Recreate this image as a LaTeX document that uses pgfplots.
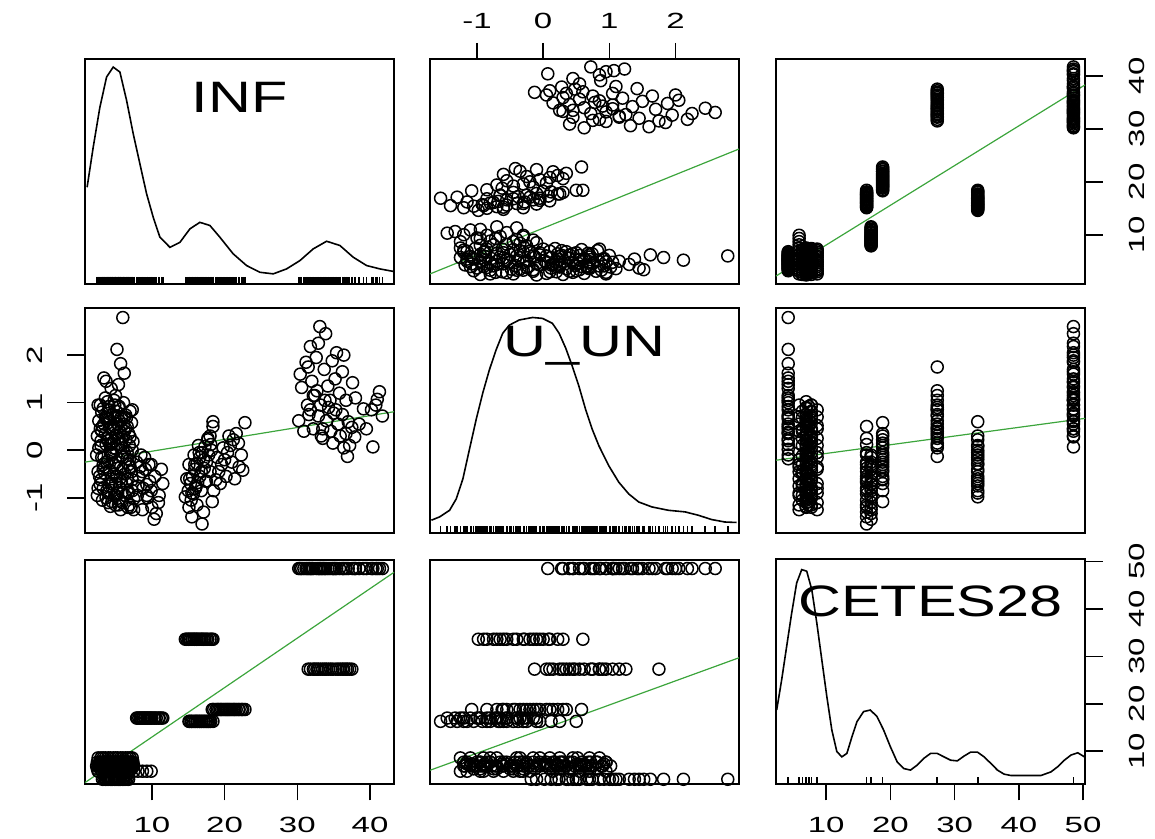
\documentclass[border=0pt]{standalone}
\usepackage{fontspec}
\setmainfont{Liberation Sans}
\newfontfamily\tickfont[FakeStretch=1.5]{Liberation Sans}
\usepackage{pgfplots}
\usepackage{pgfplotstable}
\pgfplotsset{compat=1.18}
\definecolor{fitgreen}{RGB}{60,165,60}

% INF, U_UN, CETES28 per observation
\pgfplotstableread{
INF UUN CETES
6.0 2.79 4.1
5.2 2.12 4.1
5.7 1.82 4.1
6.2 1.62 4.1
3.4 1.52 4.1
3.7 1.45 4.1
4.4 1.30 4.1
5.0 1.15 4.1
4.8 1.05 4.1
5.5 0.92 4.1
4.1 0.85 4.1
6.4 0.74 4.1
3.9 0.66 4.1
5.3 0.55 4.1
4.6 0.45 4.1
6.8 0.35 4.1
5.9 0.24 4.1
4.3 0.12 4.1
5.1 0.02 4.1
6.6 -0.18 4.1
3.6 1.10 4.1
4.9 0.70 4.1
5.6 0.38 4.1
4.0 0.20 4.1
6.1 1.00 4.1
3.2 0.50 4.1
5.4 1.38 4.1
4.5 -0.10 4.1
2.6 0.95 5.8
3.1 0.40 5.8
3.5 -0.35 5.8
4.0 -0.90 5.8
4.5 0.15 5.8
5.0 -1.15 5.8
5.6 -0.60 5.8
6.2 0.70 5.8
6.9 -0.20 5.8
7.5 -1.25 5.8
8.1 -0.75 5.8
8.7 -0.45 5.8
9.3 -0.95 5.8
9.9 -0.30 5.8
5.3 0.55 5.8
2.5 -0.95 6.3
2.9 0.45 6.3
3.3 -0.30 6.3
3.7 0.68 6.3
4.1 -0.75 6.3
4.4 0.25 6.3
4.8 -0.50 6.3
5.1 0.82 6.3
5.5 -1.05 6.3
5.8 -0.12 6.3
6.2 0.40 6.3
6.5 -0.70 6.3
6.9 0.10 6.3
7.2 -0.45 6.3
2.4 -0.10 6.9
2.7 0.62 6.9
2.9 -0.72 6.9
3.0 0.20 6.9
3.2 -1.05 6.9
3.3 0.88 6.9
3.5 -0.48 6.9
3.6 0.35 6.9
3.8 -0.85 6.9
3.9 1.02 6.9
4.0 -0.22 6.9
4.2 0.48 6.9
4.3 -1.18 6.9
4.5 -0.60 6.9
4.6 0.75 6.9
4.7 0.05 6.9
4.9 -0.95 6.9
5.0 0.32 6.9
5.2 -0.38 6.9
5.4 0.90 6.9
5.5 -0.78 6.9
5.7 0.12 6.9
5.9 -1.10 6.9
6.1 0.55 6.9
6.3 -0.50 6.9
6.6 -0.05 6.9
6.8 -0.88 6.9
7.0 0.28 6.9
7.3 -0.62 6.9
7.5 -1.02 6.9
2.6 -0.45 6.9
3.1 -0.15 6.9
3.7 0.12 6.9
4.1 0.65 6.9
4.8 -0.30 6.9
5.3 -0.90 6.9
5.8 0.70 6.9
6.0 -0.40 6.9
6.4 0.22 6.9
6.7 -1.20 6.9
7.2 0.58 6.9
4.4 -0.70 6.9
2.7 0.05 7.3
3.0 -0.62 7.3
3.4 0.55 7.3
3.8 -0.25 7.3
4.1 0.92 7.3
4.5 -1.08 7.3
4.8 0.20 7.3
5.2 -0.55 7.3
5.5 0.62 7.3
5.9 -0.88 7.3
6.2 -0.05 7.3
6.6 0.50 7.3
6.9 -1.15 7.3
7.3 0.00 7.3
2.5 0.30 7.7
2.8 -0.55 7.7
3.1 0.80 7.7
3.4 -0.15 7.7
3.7 -1.00 7.7
4.0 0.58 7.7
4.2 -0.42 7.7
4.4 0.15 7.7
4.6 -0.80 7.7
4.9 0.95 7.7
5.1 -0.25 7.7
5.4 -1.15 7.7
5.6 0.40 7.7
5.8 -0.65 7.7
6.0 0.05 7.7
6.3 -0.95 7.7
6.5 0.68 7.7
6.8 -0.30 7.7
7.1 -1.20 7.7
7.4 0.18 7.7
2.9 0.95 7.7
3.3 -0.80 7.7
3.9 0.25 7.7
4.3 -0.05 7.7
4.7 0.45 7.7
5.0 -0.95 7.7
5.3 0.72 7.7
5.7 -0.35 7.7
6.1 0.28 7.7
6.6 -0.60 7.7
7.0 0.82 7.7
7.3 -0.85 7.7
2.6 -0.80 8.6
3.0 0.10 8.6
3.3 -0.40 8.6
3.6 0.70 8.6
4.0 -1.10 8.6
4.3 -0.05 8.6
4.7 0.52 8.6
5.0 -0.70 8.6
5.3 0.25 8.6
5.7 -1.25 8.6
6.0 -0.15 8.6
6.4 0.45 8.6
6.7 -0.90 8.6
7.0 -0.35 8.6
7.3 0.85 8.6
7.9 -0.25 17.0
8.2 -0.55 17.0
8.5 -0.10 17.0
8.8 -0.80 17.0
9.1 -0.40 17.0
9.4 -1.00 17.0
9.7 -0.65 17.0
10.0 -1.20 17.0
10.3 -1.45 17.0
10.6 -1.33 17.0
11.0 -0.95 17.0
11.5 -0.70 17.0
8.0 -0.95 17.0
8.4 -0.35 17.0
8.7 -1.25 17.0
9.0 -0.15 17.0
9.3 -0.72 17.0
9.6 -0.30 17.0
9.9 -0.85 17.0
10.4 -0.55 17.0
10.9 -1.10 17.0
11.3 -0.40 17.0
15.1 -1.20 16.3
15.4 -1.05 16.3
15.7 -0.92 16.3
16.0 -0.80 16.3
16.3 -0.68 16.3
16.6 -0.55 16.3
16.9 -1.55 16.3
17.2 -0.38 16.3
17.5 -0.25 16.3
17.8 -0.10 16.3
18.1 0.12 16.3
18.4 0.50 16.3
15.2 -0.60 16.3
15.5 -1.40 16.3
15.9 -0.30 16.3
16.2 -1.15 16.3
16.5 -0.05 16.3
16.8 -0.85 16.3
17.1 -1.30 16.3
17.4 -0.65 16.3
17.7 0.25 16.3
18.0 -0.45 16.3
18.3 -1.08 18.8
18.8 -0.62 18.8
19.2 -0.45 18.8
19.6 -0.30 18.8
20.0 -0.20 18.8
20.4 -0.05 18.8
20.8 0.10 18.8
21.2 0.22 18.8
21.6 0.35 18.8
22.0 -0.35 18.8
22.5 -0.42 18.8
22.8 0.58 18.8
18.5 -0.85 18.8
19.0 -0.15 18.8
19.4 -0.70 18.8
19.8 0.05 18.8
20.2 -0.55 18.8
20.6 0.30 18.8
21.0 -0.25 18.8
21.4 -0.60 18.8
21.9 0.15 18.8
22.3 -0.10 18.8
14.6 -0.98 33.6
15.0 -0.85 33.6
15.3 -0.70 33.6
15.6 -0.55 33.6
15.9 -0.40 33.6
16.2 -0.28 33.6
16.6 -0.15 33.6
16.9 -0.05 33.6
17.3 0.08 33.6
17.7 0.22 33.6
18.0 0.30 33.6
18.4 0.60 33.6
14.8 -0.60 33.6
15.1 -0.30 33.6
15.5 -0.90 33.6
15.8 -0.10 33.6
16.1 -0.75 33.6
16.4 0.10 33.6
16.8 -0.45 33.6
17.1 -0.20 33.6
17.5 -0.65 33.6
18.2 0.00 33.6
31.5 1.75 27.3
32.4 1.15 27.3
33.2 0.95 27.3
34.0 0.62 27.3
34.6 0.40 27.3
35.3 0.85 27.3
35.9 0.30 27.3
36.4 0.05 27.3
36.9 -0.13 27.3
37.5 0.48 27.3
33.8 1.05 27.3
32.9 0.72 27.3
31.8 0.85 27.3
32.2 0.45 27.3
32.7 1.25 27.3
33.5 0.25 27.3
34.3 0.90 27.3
34.9 0.15 27.3
35.6 0.55 27.3
36.2 0.75 27.3
36.7 0.35 27.3
37.2 0.10 27.3
41.7 0.72 48.5
41.0 1.07 48.5
40.4 0.07 48.5
39.1 0.87 48.5
40.8 0.95 48.5
41.3 1.23 48.5
38.5 0.55 48.5
37.6 1.42 48.5
36.2 1.65 48.5
35.4 2.05 48.5
34.8 1.88 48.5
33.9 2.45 48.5
33.1 2.60 48.5
32.6 1.95 48.5
31.8 2.18 48.5
30.6 1.32 48.5
30.2 0.62 48.5
31.4 0.95 48.5
32.2 1.15 48.5
33.5 0.45 48.5
34.2 1.35 48.5
35.0 0.78 48.5
36.7 1.05 48.5
37.9 0.28 48.5
30.4 1.60 48.5
30.9 0.40 48.5
31.2 1.85 48.5
31.6 0.75 48.5
32.0 1.45 48.5
32.9 2.25 48.5
33.3 0.30 48.5
33.7 1.70 48.5
34.5 1.05 48.5
35.2 1.50 48.5
35.8 1.20 48.5
36.4 2.00 48.5
37.0 0.60 48.5
38.0 1.10 48.5
39.5 0.45 48.5
40.2 0.85 48.5
}\smdata

% density curves (relative height)
\pgfplotstableread{
x d
1.09 0.430
1.93 0.608
2.85 0.786
3.77 0.920
4.68 0.964
5.60 0.942
6.52 0.816
7.43 0.668
8.35 0.534
9.27 0.401
10.18 0.297
11.10 0.208
12.48 0.163
13.85 0.185
15.23 0.245
16.60 0.274
17.98 0.260
19.35 0.208
21.18 0.134
23.02 0.082
24.86 0.052
26.69 0.045
28.52 0.067
30.36 0.104
32.19 0.156
34.03 0.190
35.86 0.171
37.69 0.119
39.53 0.082
41.36 0.067
43.19 0.056
}\densINF

\pgfplotstableread{
x d
-1.689 0.059
-1.564 0.074
-1.414 0.103
-1.313 0.154
-1.213 0.243
-1.113 0.375
-1.012 0.507
-0.912 0.625
-0.812 0.728
-0.711 0.816
-0.611 0.890
-0.511 0.926
-0.361 0.949
-0.160 0.960
-0.010 0.956
0.140 0.934
0.241 0.890
0.341 0.824
0.441 0.743
0.541 0.654
0.642 0.551
0.742 0.463
0.842 0.390
0.992 0.301
1.143 0.228
1.293 0.176
1.444 0.140
1.644 0.118
1.895 0.103
2.145 0.096
2.346 0.081
2.546 0.062
2.747 0.051
2.922 0.049
}\densUUN

\pgfplotstableread{
x d
2.30 0.331
3.08 0.465
3.86 0.614
4.64 0.762
5.42 0.896
6.20 0.955
6.98 0.948
7.77 0.866
8.55 0.718
9.33 0.554
10.11 0.391
10.89 0.242
11.67 0.146
12.45 0.123
13.23 0.138
14.02 0.212
14.80 0.279
15.83 0.324
16.88 0.331
17.92 0.302
18.95 0.242
20.00 0.168
21.05 0.101
22.08 0.071
23.13 0.064
24.17 0.086
25.20 0.116
26.25 0.138
27.30 0.138
28.33 0.123
29.38 0.108
30.42 0.105
31.45 0.126
32.50 0.144
33.55 0.144
34.58 0.123
35.63 0.094
36.67 0.064
37.70 0.046
38.75 0.040
41.36 0.040
43.44 0.040
45.00 0.056
46.05 0.079
47.08 0.108
48.13 0.131
49.17 0.141
50.20 0.123
}\densCETES

\tikzset{diaglab/.style={font=\fontsize{22}{26}\selectfont, xscale=1.35},
  tk/.style={black, line width=0.8pt}}
\pgfplotsset{
  panel/.style={scale only axis, width=154.5pt, height=112.5pt, anchor=south west,
    axis line style={line width=1pt},
    tick align=outside, major tick length=8pt,
    tick style={black, line width=0.8pt},
    tick label style={font=\tickfont\fontsize{11}{13}\selectfont}},
  noticks/.style={xtick=\empty, ytick=\empty},
  pts/.style={black, only marks, mark=o, mark size=3pt, mark options={line width=0.75pt}},
  fit/.style={fitgreen, line width=0.6pt, no markers},
  dens/.style={black, line width=0.8pt, no markers},
  rug/.style={black, only marks, mark=|, mark size=1.75pt, mark options={line width=0.8pt}},
  xINF/.style={xmin=0.8, xmax=43.3},
  xUUN/.style={xmin=-1.71, xmax=2.96},
  xCET/.style={xmin=2.2, xmax=50.3},
  yINF/.style={ymin=0.7, ymax=43.2},
  yUUN/.style={ymin=-1.75, ymax=2.98},
  yCET/.style={ymin=3.0, ymax=50.4},
}

\begin{document}
\begin{tikzpicture}
\path[use as bounding box] (0,0) rectangle (577.5pt,419.5pt);

% row 1
\begin{axis}[panel, noticks, at={(42.5pt,277.5pt)}, xINF, ymin=0, ymax=1]
\addplot[dens] table[x=x, y=d] {\densINF};
\addplot[rug] table[x=INF, y expr=0.0156] {\smdata};
\node[diaglab] at (rel axis cs:0.5,0.83) {INF};
\end{axis}

\begin{axis}[panel, clip=false, at={(215pt,277.5pt)}, xUUN, yINF, ytick=\empty,
  xtick={-1,0,1,2}, xticklabels={-1,0,1,2}, xtick pos=right, xticklabel pos=right,
  xticklabel style={anchor=center}, xticklabel shift=11pt]
\addplot[pts] table[x=UUN, y=INF] {\smdata};
\addplot[fit] coordinates {(-1.71,2.6) (2.96,26.2)};
\draw[tk] (axis cs:-1,43.2) -- ([yshift=8pt]axis cs:-1,43.2);
\draw[tk] (axis cs:0,43.2) -- ([yshift=8pt]axis cs:0,43.2);
\draw[tk] (axis cs:1,43.2) -- ([yshift=8pt]axis cs:1,43.2);
\draw[tk] (axis cs:2,43.2) -- ([yshift=8pt]axis cs:2,43.2);
\end{axis}

\begin{axis}[panel, clip=false, at={(388pt,277.5pt)}, xCET, yINF, xtick=\empty,
  ytick={10,20,30,40}, yticklabels={10,20,30,40}, ytick pos=right, yticklabel pos=right,
  yticklabel style={anchor=center, rotate=90}, yticklabel shift=18pt]
\addplot[pts] table[x=CETES, y=INF] {\smdata};
\addplot[fit] coordinates {(2.2,2.2) (50.3,38.3)};
\draw[tk] (axis cs:50.3,10) -- ([xshift=9pt]axis cs:50.3,10);
\draw[tk] (axis cs:50.3,20) -- ([xshift=9pt]axis cs:50.3,20);
\draw[tk] (axis cs:50.3,30) -- ([xshift=9pt]axis cs:50.3,30);
\draw[tk] (axis cs:50.3,40) -- ([xshift=9pt]axis cs:50.3,40);
\end{axis}

% row 2
\begin{axis}[panel, clip=false, at={(42.5pt,152.75pt)}, xINF, yUUN, xtick=\empty,
  ytick={-1,0,1,2}, yticklabels={-1,0,1,2}, ytick pos=left, yticklabel pos=left,
  yticklabel style={anchor=center, rotate=90}, yticklabel shift=17pt]
\addplot[pts] table[x=INF, y=UUN] {\smdata};
\addplot[fit] coordinates {(0.8,-0.25) (43.3,0.81)};
\draw[tk] (axis cs:0.8,-1) -- ([xshift=-9pt]axis cs:0.8,-1);
\draw[tk] (axis cs:0.8,0) -- ([xshift=-9pt]axis cs:0.8,0);
\draw[tk] (axis cs:0.8,1) -- ([xshift=-9pt]axis cs:0.8,1);
\draw[tk] (axis cs:0.8,2) -- ([xshift=-9pt]axis cs:0.8,2);
\end{axis}

\begin{axis}[panel, noticks, at={(215pt,152.75pt)}, xUUN, ymin=0, ymax=1]
\addplot[dens] table[x=x, y=d] {\densUUN};
\addplot[rug] table[x=UUN, y expr=0.0156] {\smdata};
\node[diaglab] at (rel axis cs:0.5,0.835) {U\_UN};
\end{axis}

\begin{axis}[panel, noticks, at={(388pt,152.75pt)}, xCET, yUUN]
\addplot[pts] table[x=CETES, y=UUN] {\smdata};
\addplot[fit] coordinates {(2.2,-0.21) (50.3,0.67)};
\end{axis}

% row 3
\begin{axis}[panel, clip=false, at={(42.5pt,27.25pt)}, xINF, yCET, ytick=\empty,
  xtick={10,20,30,40}, xticklabels={10,20,30,40}, xtick pos=left, xticklabel pos=left,
  xticklabel style={anchor=center}, xticklabel shift=12pt]
\addplot[pts] table[x=INF, y=CETES] {\smdata};
\addplot[fit] coordinates {(0.8,3.4) (43.3,47.7)};
\draw[tk] (axis cs:10,3.0) -- ([yshift=-8pt]axis cs:10,3.0);
\draw[tk] (axis cs:20,3.0) -- ([yshift=-8pt]axis cs:20,3.0);
\draw[tk] (axis cs:30,3.0) -- ([yshift=-8pt]axis cs:30,3.0);
\draw[tk] (axis cs:40,3.0) -- ([yshift=-8pt]axis cs:40,3.0);
\end{axis}

\begin{axis}[panel, noticks, at={(215pt,27.25pt)}, xUUN, yCET]
\addplot[pts] table[x=UUN, y=CETES] {\smdata};
\addplot[fit] coordinates {(-1.71,6.0) (2.96,29.7)};
\end{axis}

\begin{axis}[panel, clip=false, at={(388pt,27.25pt)}, xCET, ymin=0, ymax=1, ytick=\empty,
  xtick={10,20,30,40,50}, xticklabels={10,20,30,40,50}, xtick pos=left, xticklabel pos=left,
  xticklabel style={anchor=center}, xticklabel shift=12pt]
\addplot[dens] table[x=x, y=d] {\densCETES};
\addplot[rug] table[x=CETES, y expr=0.0156] {\smdata};
\node[diaglab] at (rel axis cs:0.5,0.813) {CETES28};
\draw[tk] (axis cs:10,0) -- ([yshift=-8pt]axis cs:10,0);
\draw[tk] (axis cs:20,0) -- ([yshift=-8pt]axis cs:20,0);
\draw[tk] (axis cs:30,0) -- ([yshift=-8pt]axis cs:30,0);
\draw[tk] (axis cs:40,0) -- ([yshift=-8pt]axis cs:40,0);
\draw[tk] (axis cs:50,0) -- ([yshift=-8pt]axis cs:50,0);
\end{axis}
% right-hand CETES28 scale of row 3
\begin{axis}[panel, clip=false, at={(388pt,27.25pt)}, xCET, yCET, xtick=\empty, axis line style={draw=none},
  ytick={10,20,30,40,50}, yticklabels={10,20,30,40,50}, ytick pos=right, yticklabel pos=right,
  yticklabel style={anchor=center, rotate=90}, yticklabel shift=18pt]
\draw[tk] (axis cs:50.3,10) -- ([xshift=9pt]axis cs:50.3,10);
\draw[tk] (axis cs:50.3,20) -- ([xshift=9pt]axis cs:50.3,20);
\draw[tk] (axis cs:50.3,30) -- ([xshift=9pt]axis cs:50.3,30);
\draw[tk] (axis cs:50.3,40) -- ([xshift=9pt]axis cs:50.3,40);
\draw[tk] (axis cs:50.3,50) -- ([xshift=9pt]axis cs:50.3,50);
\end{axis}
\end{tikzpicture}
\end{document}
